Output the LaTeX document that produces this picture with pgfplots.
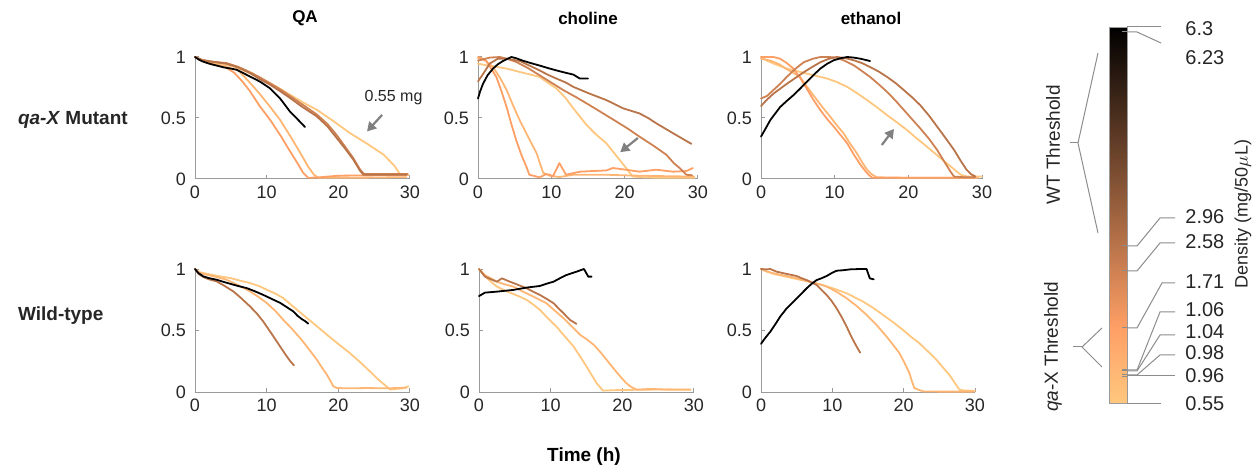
\documentclass[border=0pt]{standalone}
\usepackage{pgfplots}
\pgfplotsset{compat=1.18}
\usepackage{fontspec}
\setmainfont{Liberation Sans}
\usetikzlibrary{arrows.meta}
\definecolor{axgray}{HTML}{9A9A9A}
\definecolor{tickcol}{HTML}{262626}
\definecolor{arrgray}{HTML}{808080}
\definecolor{leadgray}{HTML}{8C8C8C}
\definecolor{cA}{rgb}{0.015,0.0095,0.006}
\definecolor{cB}{rgb}{0,0,0}
\definecolor{cC}{rgb}{0.726,0.4538,0.289}
\definecolor{cD}{rgb}{0.809,0.5054,0.3219}
\definecolor{cE}{rgb}{0.998,0.6236,0.3971}
\definecolor{cF}{rgb}{1,0.7119,0.4534}
\definecolor{cH}{rgb}{1,0.7812,0.4975}
\newcommand{\tickfont}{\fontsize{9}{10}\selectfont}
\tikzset{arr/.style={draw=arrgray, line width=1.1pt, -{Triangle[length=4.5pt,width=5pt]}}}
\pgfplotsset{
  panel/.style={
    scale only axis, anchor=south west,
    xmin=0, xmax=30, ymin=0, ymax=1,
    axis x line*=bottom, axis y line*=left,
    axis line style={axgray, line width=0.5pt},
    xtick={0,10,20,30}, ytick={0,0.5,1},
    tick align=inside, major tick length=2pt,
    every tick/.style={axgray, line width=0.5pt},
    tick label style={font=\tickfont, text=tickcol},
    yticklabel style={xshift=-1pt},
    /pgf/number format/assume math mode=true,
    clip=false,
    every axis plot/.append style={line width=0.9pt, line join=round, line cap=round},
  },
}
\begin{document}
\begin{tikzpicture}
\path[use as bounding box] (0,0) rectangle (630pt,236pt);

% ---------------- Panel 1: QA, mutant
\begin{axis}[panel, at={(97.5pt,146.5pt)}, width=107.5pt, height=61pt]
\addplot[cH] coordinates {(0,1) (1,0.975) (2.5,0.95) (5.35,0.923) (7.5,0.87) (10,0.8) (11.6,0.75) (13.26,0.691) (15,0.63) (16.98,0.568) (19.3,0.475) (21.6,0.377) (24,0.29) (26.3,0.2) (27.8,0.11) (28.6,0.04) (29,0.03) (29.8,0.03)};
\addplot[cF] coordinates {(0,1) (1,0.97) (2.5,0.94) (4.5,0.915) (6.05,0.89) (7.5,0.80) (9,0.70) (10.5,0.59) (11.86,0.486) (13.2,0.36) (14.56,0.227) (15.8,0.1) (16.6,0.035) (17.2,0.01) (22,0.01) (29.5,0.015)};
\addplot[cE] coordinates {(0,1) (1,0.97) (2.5,0.94) (4.3,0.915) (5.5,0.87) (6.6,0.80) (7.67,0.72) (9,0.6) (10.47,0.486) (12,0.35) (13.26,0.227) (14.3,0.13) (15.1,0.05) (15.8,0.01) (17,0.012) (20,0.027) (25,0.03) (29.5,0.03)};
\addplot[cD] coordinates {(0,1) (1,0.975) (2.5,0.962) (4.4,0.95) (6,0.92) (7.67,0.876) (9,0.835) (10.47,0.785) (12,0.73) (13.26,0.68) (15,0.61) (16.98,0.53) (18.5,0.45) (19.77,0.36) (21,0.26) (22.1,0.17) (23,0.08) (23.6,0.04) (26,0.04) (29.7,0.04)};
\addplot[cC] coordinates {(0,1) (1,0.975) (2.5,0.96) (4.4,0.945) (6,0.915) (7.67,0.869) (9,0.82) (10.47,0.773) (12,0.715) (13.26,0.664) (15,0.59) (16.98,0.514) (18.5,0.43) (19.77,0.336) (21,0.245) (22.1,0.158) (23,0.07) (23.5,0.035) (26,0.035) (29.5,0.035)};
\addplot[cA] coordinates {(0,1) (0.5,0.98) (1,0.965) (2,0.945) (3,0.93) (4,0.915) (5,0.905) (5.8,0.896) (7,0.86) (8,0.83) (9.07,0.798) (10.47,0.743) (11.2,0.70) (11.86,0.661) (12.56,0.607) (13.26,0.552) (14.19,0.497) (15.35,0.426)};
\draw[arr] (axis cs:26.1,0.525) -- (axis cs:24.0,0.39);
\node[font=\fontsize{8}{9}\selectfont, text=tickcol] at (axis cs:27.7,0.664) {0.55 mg};
\end{axis}

% ---------------- Panel 2: choline, mutant
\begin{axis}[panel, at={(239pt,146.5pt)}, width=110pt, height=61pt]
\addplot[cH] coordinates {(0,0.946) (1.1,0.932) (2.5,0.92) (3.9,0.905) (5.2,0.885) (6.6,0.864) (8.4,0.837) (9.5,0.79) (10.7,0.742) (12,0.66) (13,0.579) (14.8,0.443) (16,0.37) (17.5,0.293) (19.3,0.158) (20.2,0.09) (21.1,0.02) (23,0.012) (26,0.01) (29.5,0.01)};
\addplot[cF] coordinates {(0,0.99) (1,0.97) (2,0.92) (3,0.83) (3.9,0.73) (4.8,0.6) (5.7,0.48) (6.8,0.35) (8,0.21) (8.5,0.12) (8.9,0.05) (9.8,0.027) (11.1,0.016) (13,0.035) (15,0.035) (17.5,0.035) (20,0.03) (22,0.027) (26.6,0.022) (29.5,0.02)};
\addplot[cE] coordinates {(0,1) (0.5,0.99) (1.1,0.97) (2.5,0.837) (3.2,0.72) (3.9,0.59) (4.5,0.46) (5.2,0.32) (5.9,0.2) (6.6,0.1) (7,0.035) (8.4,0.013) (9.3,0.04) (9.8,0.035) (10.2,0.02) (11.1,0.13) (12,0.035) (13.9,0.06) (15.5,0.065) (17.5,0.07) (18.4,0.09) (20.2,0.076) (22,0.06) (24.3,0.076) (26.6,0.06) (28.4,0.065) (29.3,0.09)};
\addplot[cD] coordinates {(0,0.97) (1.6,0.995) (3,1.0) (4,0.985) (5.2,0.96) (6.8,0.91) (8.4,0.85) (10,0.79) (11.6,0.73) (13.4,0.67) (15.2,0.606) (17,0.54) (18.9,0.47) (20.5,0.41) (22,0.348) (24,0.27) (25.7,0.198) (26.7,0.13) (27.5,0.09) (28.4,0.035) (29.2,0.03)};
\addplot[cC] coordinates {(0,0.8) (0.68,0.86) (1.6,0.946) (2.7,0.986) (3.9,0.986) (5.7,0.967) (7,0.93) (8.4,0.89) (9.5,0.855) (10.7,0.823) (12,0.79) (13,0.755) (15.2,0.70) (17.5,0.647) (19.8,0.579) (22,0.538) (23.2,0.5) (24.3,0.457) (26.6,0.375) (29.1,0.288)};
\addplot[cA] coordinates {(0,0.66) (0.3,0.72) (0.68,0.78) (1.3,0.85) (2.05,0.905) (2.7,0.94) (3.4,0.967) (4.55,1.0) (5.2,0.99) (6.1,0.97) (7.2,0.95) (8.4,0.93) (9.5,0.91) (10.7,0.89) (12,0.87) (13,0.856) (13.9,0.823) (15,0.823)};
\draw[arr] (axis cs:21.8,0.336) -- (axis cs:19.4,0.22);
\end{axis}

% ---------------- Panel 3: ethanol, mutant
\begin{axis}[panel, at={(380.5pt,146.5pt)}, width=110.5pt, height=61pt]
\addplot[cH] coordinates {(0,1) (0.8,0.97) (1.7,0.946) (3.5,0.905) (6.2,0.864) (9,0.823) (10.3,0.795) (11.7,0.755) (13,0.705) (14.4,0.647) (15.8,0.585) (17.1,0.524) (18.5,0.462) (19.8,0.402) (21.1,0.335) (22.5,0.266) (23.8,0.2) (25.2,0.13) (26.2,0.08) (27.1,0.035) (28,0.02) (30,0.02)};
\addplot[cF] coordinates {(0,0.986) (1.3,0.97) (2.5,0.94) (3.5,0.9) (4.4,0.87) (5.3,0.837) (6.2,0.76) (7.1,0.687) (8.2,0.6) (9.4,0.51) (10.3,0.44) (11.2,0.375) (12.1,0.29) (13,0.212) (13.7,0.14) (14.4,0.076) (15,0.04) (15.7,0.014) (20,0.01) (29.5,0.01)};
\addplot[cE] coordinates {(0,1) (0.8,1.0) (1.7,1.0) (2.6,0.986) (3.5,0.95) (4.4,0.905) (5.3,0.83) (6.2,0.742) (7.1,0.65) (8.05,0.565) (9,0.49) (9.86,0.43) (10.8,0.36) (11.7,0.293) (12.6,0.2) (13.5,0.117) (14.1,0.07) (14.6,0.035) (15.1,0.01) (20,0.01) (29,0.01)};
\addplot[cD] coordinates {(0,0.66) (0.8,0.68) (1.7,0.73) (2.6,0.78) (3.5,0.837) (4.6,0.9) (5.8,0.957) (7,0.985) (8.05,1.0) (9.2,1.0) (10.3,0.995) (11.5,0.965) (12.6,0.932) (13.7,0.885) (14.8,0.837) (16,0.775) (17.1,0.715) (18.3,0.64) (19.4,0.565) (20.5,0.49) (21.6,0.416) (22.8,0.33) (23.9,0.239) (24.8,0.15) (25.7,0.063) (26.2,0.02) (27.5,0.015) (29,0.015)};
\addplot[cC] coordinates {(0,0.598) (0.8,0.65) (1.7,0.70) (3.5,0.78) (5.8,0.875) (7,0.92) (8.05,0.957) (9.2,0.985) (10.3,1.0) (11.5,0.99) (12.6,0.973) (13.7,0.95) (14.8,0.918) (16,0.88) (17.1,0.837) (18.3,0.785) (19.4,0.728) (20.5,0.67) (21.6,0.606) (22.8,0.52) (23.9,0.43) (25,0.34) (26.2,0.239) (27.1,0.15) (27.9,0.076) (28.5,0.04) (29.1,0.02)};
\addplot[cA] coordinates {(0,0.348) (0.5,0.4) (1.27,0.484) (2.6,0.59) (3.5,0.64) (4.4,0.687) (5.3,0.74) (6.2,0.796) (7.1,0.85) (8.05,0.905) (9,0.945) (9.86,0.973) (10.8,0.99) (11.7,1.0) (12.6,0.995) (13.5,0.986) (14.8,0.967)};
\draw[arr] (axis cs:16.4,0.279) -- (axis cs:18.05,0.41);
\end{axis}

% ---------------- Panel 4: QA, wild type
\begin{axis}[panel, at={(97.5pt,40pt)}, width=107.5pt, height=61.5pt]
\addplot[cH] coordinates {(0,1) (0.6,0.975) (1.6,0.962) (3,0.945) (4.9,0.927) (6.3,0.905) (7.67,0.886) (9,0.86) (10,0.832) (11.2,0.8) (12.3,0.764) (14,0.68) (15.6,0.602) (17,0.535) (18.4,0.466) (20,0.39) (21.6,0.317) (23,0.245) (24.4,0.168) (25.6,0.1) (26.7,0.046) (27.2,0.02) (28,0.025) (29,0.03) (29.8,0.046)};
\addplot[cF] coordinates {(0,1) (0.6,0.97) (1.6,0.954) (3,0.935) (4.4,0.913) (6,0.87) (7.67,0.818) (8.8,0.775) (10,0.724) (11.2,0.66) (12.3,0.588) (13.5,0.515) (14.65,0.44) (15.8,0.355) (17,0.263) (17.7,0.2) (18.4,0.141) (18.9,0.09) (19.3,0.046) (19.8,0.033) (21,0.03) (24,0.032) (27,0.03) (29.5,0.035)};
\addplot[cC] coordinates {(0,1) (0.5,0.96) (1.16,0.935) (2,0.915) (3,0.9) (4.2,0.86) (5.35,0.818) (6.5,0.76) (7.67,0.696) (8.6,0.64) (9.5,0.575) (10.5,0.49) (11.4,0.412) (12.1,0.35) (12.8,0.29) (13.3,0.25) (13.8,0.217)};
\addplot[cB] coordinates {(0,1) (0.47,0.967) (1.16,0.94) (2,0.925) (3,0.913) (4,0.895) (4.9,0.88) (6,0.862) (7.2,0.845) (8.3,0.82) (9.5,0.79) (10.7,0.757) (11.9,0.724) (12.8,0.69) (13.7,0.656) (14.3,0.62) (14.9,0.593) (15.4,0.575) (15.8,0.556)};
\end{axis}

% ---------------- Panel 5: choline, wild type
\begin{axis}[panel, at={(239.5pt,40pt)}, width=107.5pt, height=61.5pt]
\addplot[cH] coordinates {(0,1) (0.84,0.94) (1.6,0.9) (2.5,0.857) (3.6,0.825) (4.8,0.797) (5.7,0.775) (6.65,0.749) (7.6,0.71) (8.5,0.668) (9.6,0.6) (10.8,0.532) (12,0.45) (13.2,0.37) (14.1,0.29) (15,0.208) (15.7,0.14) (16.4,0.073) (17.3,0.011) (19,0.015) (22,0.018) (25,0.02) (29.5,0.018)};
\addplot[cF] coordinates {(0,1) (0.84,0.95) (2.5,0.897) (3.6,0.875) (4.8,0.857) (6,0.82) (7.1,0.789) (8.3,0.755) (9.4,0.722) (10.6,0.66) (11.8,0.6) (13,0.53) (14.1,0.465) (15,0.43) (16,0.384) (17,0.32) (17.8,0.262) (18.8,0.19) (19.7,0.127) (20.5,0.075) (21.1,0.046) (22,0.019) (24,0.025) (26,0.02) (29.5,0.02)};
\addplot[cC] coordinates {(0,1) (0.84,0.938) (1.7,0.915) (2.5,0.897) (3.2,0.924) (4.3,0.897) (5.5,0.87) (6.65,0.843) (7.6,0.815) (8.5,0.789) (9.5,0.755) (10.4,0.722) (11.1,0.68) (11.8,0.64) (12.7,0.586) (13.6,0.554)};
\addplot[cB] coordinates {(0,0.78) (0.84,0.808) (2.5,0.816) (4.8,0.83) (6.65,0.849) (8.5,0.862) (9.4,0.88) (10.4,0.897) (11.3,0.925) (12.2,0.951) (13.6,0.978) (14.65,1.0) (15.25,0.938) (15.7,0.938)};
\end{axis}

% ---------------- Panel 6: ethanol, wild type
\begin{axis}[panel, at={(380.5pt,40pt)}, width=107pt, height=61.5pt]
\addplot[cH] coordinates {(0,1) (0.8,0.98) (1.77,0.96) (4.55,0.924) (7.35,0.889) (8.7,0.867) (10.1,0.843) (12,0.803) (14.3,0.735) (15.7,0.685) (17.1,0.627) (18.5,0.568) (19.9,0.505) (21,0.45) (22.2,0.397) (23.4,0.33) (24.6,0.262) (25.5,0.2) (26.4,0.14) (27.1,0.08) (27.8,0.019) (28.5,0.012) (30,0.01)};
\addplot[cF] coordinates {(0,1) (0.8,0.98) (1.77,0.965) (3,0.95) (4.55,0.932) (6,0.91) (7.35,0.889) (8.3,0.875) (9.2,0.857) (10.6,0.815) (12,0.762) (13.4,0.7) (14.8,0.627) (16.2,0.545) (17.6,0.451) (18.5,0.385) (19.4,0.316) (20.1,0.24) (20.8,0.154) (21.2,0.08) (21.5,0.032) (22.7,0.005) (25,0.003) (29.8,0.003)};
\addplot[cC] coordinates {(0,1) (0.7,0.997) (1.3,1.0) (2.2,0.978) (3.6,0.96) (5,0.943) (5.7,0.925) (6.4,0.91) (7.1,0.89) (7.8,0.87) (8.5,0.83) (9.2,0.789) (9.9,0.74) (10.6,0.68) (11.3,0.61) (12,0.532) (12.5,0.47) (12.9,0.424) (13.4,0.37) (13.9,0.32)};
\addplot[cB] coordinates {(0,0.392) (0.6,0.44) (1.3,0.49) (2,0.55) (2.7,0.614) (3.6,0.68) (4.55,0.735) (5.5,0.79) (6.4,0.843) (7.1,0.88) (7.8,0.91) (8.5,0.925) (9.2,0.943) (10,0.97) (10.6,0.986) (11.5,0.99) (12.5,0.997) (13.9,1.0) (14.8,1.0) (15.25,0.924) (15.8,0.916)};
\end{axis}

% ---------------- Colorbar
\begin{axis}[at={(554.5pt,34.5pt)}, anchor=south west, scale only axis, width=9pt, height=188pt,
  xmin=0, xmax=1, ymin=0.55, ymax=6.3, hide axis, clip=false,
  colormap={revcopper}{rgb(0pt)=(1,0.7812,0.4975); rgb(2pt)=(1,0.625,0.398); rgb(10pt)=(0,0,0)},
  point meta min=0.55, point meta max=6.3]
\addplot[patch, shader=interp, point meta=y] coordinates {
 (0,0.55) (1,0.55) (1,1.7)  (0,0.55) (1,1.7) (0,1.7)
 (0,1.7) (1,1.7) (1,6.3)  (0,1.7) (1,6.3) (0,6.3)};
\draw[axgray, line width=0.5pt] (axis cs:0,0.55) rectangle (axis cs:1,6.3);
\draw[leadgray, line width=0.5pt] (axis cs:1,6.23) -- (axis cs:0.7,6.23);
\draw[leadgray, line width=0.5pt] (axis cs:1,2.96) -- (axis cs:0.7,2.96);
\draw[leadgray, line width=0.5pt] (axis cs:1,2.58) -- (axis cs:0.7,2.58);
\draw[leadgray, line width=0.5pt] (axis cs:1,1.71) -- (axis cs:0.7,1.71);
\draw[leadgray, line width=0.5pt] (axis cs:1,1.06) -- (axis cs:0.7,1.06);
\draw[leadgray, line width=0.5pt] (axis cs:1,1.04) -- (axis cs:0.7,1.04);
\draw[leadgray, line width=0.5pt] (axis cs:1,0.98) -- (axis cs:0.7,0.98);
\draw[leadgray, line width=0.5pt] (axis cs:1,0.96) -- (axis cs:0.7,0.96);
\end{axis}

\begin{scope}[shift={(0pt,236pt)}, x=0.5pt, y=-0.5pt]
% titles
\node[font=\bfseries\fontsize{8.5}{10}\selectfont] at (305,18) {QA};
\node[font=\bfseries\fontsize{8.5}{10}\selectfont] at (588,18) {choline};
\node[font=\bfseries\fontsize{8.5}{10}\selectfont] at (871,18) {ethanol};
\node[anchor=west, font=\bfseries\fontsize{9.5}{11}\selectfont, text=tickcol] at (11,120) {\textit{qa-X} Mutant};
\node[anchor=west, font=\bfseries\fontsize{9.5}{11}\selectfont, text=tickcol] at (11,316) {Wild-type};
\node[font=\bfseries\fontsize{9.5}{11}\selectfont] at (584,457) {Time (h)};
% colorbar leader lines
\begin{scope}[leadgray, line width=0.5pt]
\draw (1127,27) -- (1161,27);
\draw (1127,32) -- (1137,32) -- (1161,43);
\draw (1127,246) -- (1137,246) -- (1160,218) -- (1175,218);
\draw (1127,271) -- (1137,271) -- (1160,243) -- (1175,243);
\draw (1127,328) -- (1137,328) -- (1162,283) -- (1175,283);
\draw (1127,370) -- (1137,370) -- (1160,312) -- (1175,312);
\draw (1127,371) -- (1137,371) -- (1160,335) -- (1175,335);
\draw (1127,375) -- (1137,375) -- (1160,355) -- (1175,355);
\draw (1127,376) -- (1175,376);
\draw (1127,403) -- (1161,403);
% brackets
\draw (1098,53) -- (1078,143) -- (1098,233);
\draw (1078,143) -- (1070,143);
\draw (1102,328) -- (1082,347) -- (1102,367);
\draw (1082,347) -- (1073,347);
\end{scope}
\begin{scope}[every node/.style={anchor=west, font=\fontsize{10}{11}\selectfont, text=tickcol, inner sep=0pt}]
\node at (1185,29) {6.3};
\node at (1185,58) {6.23};
\node at (1185,217) {2.96};
\node at (1185,242) {2.58};
\node at (1185,282) {1.71};
\node at (1185,310) {1.06};
\node at (1185,332) {1.04};
\node at (1185,353) {0.98};
\node at (1185,376) {0.96};
\node at (1185,404) {0.55};
\end{scope}
\node[rotate=90, font=\fontsize{9.5}{11}\selectfont, text=tickcol] at (1053,145) {WT Threshold};
\node[rotate=90, font=\fontsize{9.5}{11}\selectfont, text=tickcol] at (1053,347) {\textit{qa}-X Threshold};
\node[rotate=90, font=\fontsize{9}{10}\selectfont, text=tickcol] at (1243,214) {Density (mg/50$\mu$L)};
\end{scope}
\end{tikzpicture}
\end{document}
